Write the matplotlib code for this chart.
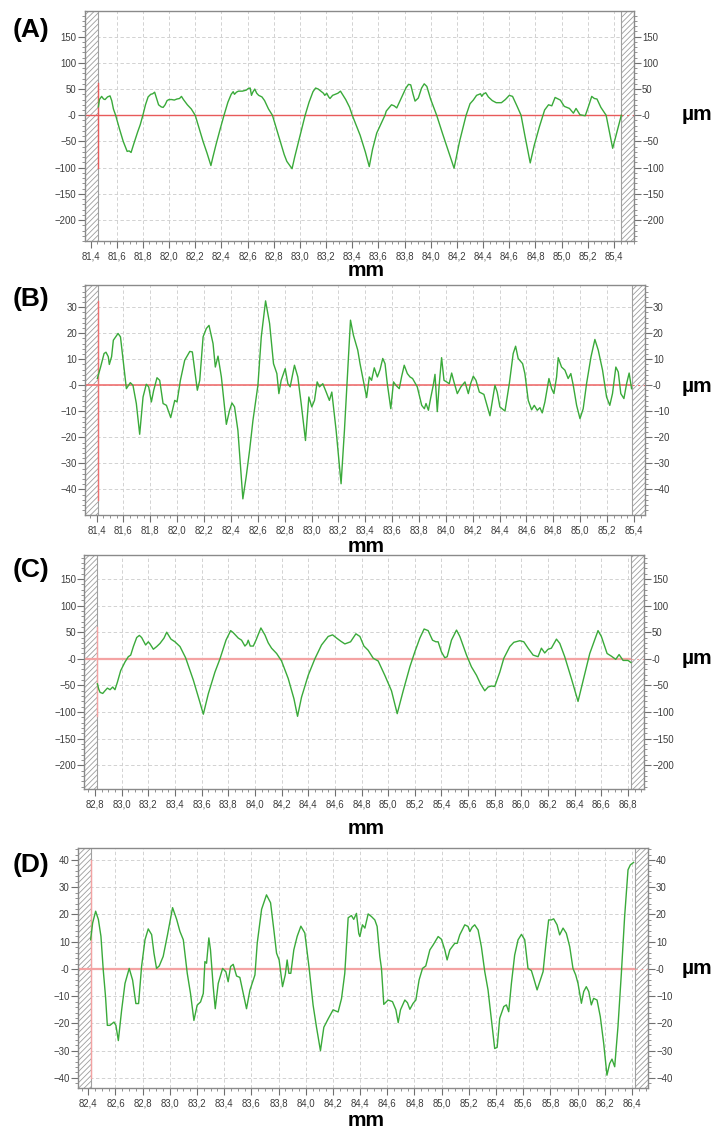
import matplotlib
matplotlib.use('Agg')
import matplotlib.pyplot as plt
from matplotlib.ticker import MultipleLocator, FixedLocator, FuncFormatter
import numpy as np

plt.rcParams['font.family'] = ['Liberation Sans', 'DejaVu Sans']
plt.rcParams['hatch.linewidth'] = 0.6

# ---------------- data (x in mm, y in µm) ----------------
profile_A = [
    (81.460, 16), (81.468, 30), (81.485, 36), (81.500, 31), (81.511, 30), (81.530, 35), (81.549, 37),
    (81.562, 28), (81.575, 12), (81.592, 0), (81.62, -25), (81.65, -50), (81.68, -69), (81.695, -68),
    (81.71, -71), (81.73, -55), (81.76, -32), (81.78, -18), (81.80, 0), (81.82, 20), (81.84, 35),
    (81.86, 40), (81.875, 41), (81.89, 44), (81.905, 32), (81.92, 20), (81.94, 16), (81.955, 15),
    (81.97, 20), (81.985, 28), (82.00, 30), (82.02, 30), (82.04, 29), (82.06, 31), (82.08, 32),
    (82.095, 36), (82.11, 30), (82.14, 20), (82.17, 12), (82.20, 0), (82.23, -25), (82.26, -50),
    (82.29, -72), (82.32, -96), (82.335, -80), (82.36, -55), (82.39, -27), (82.42, 0), (82.45, 25),
    (82.475, 40), (82.49, 45), (82.50, 40), (82.515, 44), (82.53, 46), (82.56, 46), (82.59, 48),
    (82.605, 51), (82.62, 52), (82.63, 38), (82.64, 44), (82.655, 50), (82.67, 42), (82.685, 38),
    (82.71, 35), (82.73, 28), (82.76, 12), (82.79, 0), (82.82, -25), (82.85, -50), (82.88, -75),
    (82.90, -88), (82.94, -102), (82.96, -80), (82.99, -50), (83.015, -25), (83.04, 0), (83.07, 25),
    (83.10, 45), (83.12, 52), (83.14, 50), (83.165, 45), (83.18, 42), (83.19, 38), (83.205, 42),
    (83.22, 35), (83.23, 32), (83.25, 38), (83.27, 40), (83.29, 42), (83.31, 46), (83.325, 40),
    (83.35, 30), (83.38, 15), (83.40, 0), (83.46, -38), (83.50, -70), (83.53, -98), (83.555, -65),
    (83.587, -34), (83.65, 0), (83.66, 8), (83.70, 20), (83.72, 18), (83.74, 14), (83.76, 25),
    (83.78, 36), (83.81, 52), (83.83, 59), (83.847, 58), (83.865, 40), (83.88, 27), (83.905, 33),
    (83.93, 52), (83.95, 60), (83.97, 55), (84.00, 30), (84.045, 0), (84.09, -35), (84.13, -65),
    (84.178, -101), (84.22, -50), (84.27, 0), (84.30, 22), (84.325, 29), (84.35, 38), (84.38, 41),
    (84.39, 36), (84.40, 40), (84.42, 43), (84.44, 35), (84.47, 28), (84.50, 24), (84.54, 24),
    (84.57, 30), (84.60, 38), (84.625, 36), (84.66, 17), (84.69, 0), (84.72, -40), (84.76, -91),
    (84.79, -58), (84.83, -22), (84.87, 10), (84.90, 20), (84.925, 18), (84.95, 34), (84.99, 29),
    (85.02, 17), (85.06, 13), (85.09, 4), (85.11, 13), (85.14, 1), (85.18, -1), (85.20, 13),
    (85.23, 36), (85.25, 32), (85.27, 31), (85.30, 15), (85.34, 0), (85.39, -63), (85.425, -30),
    (85.456, 0),
]

profile_B = [
    (81.406, 2.6), (81.43, 7), (81.456, 12.2), (81.47, 12.7), (81.487, 11), (81.495, 8), (81.512, 11),
    (81.525, 17.3), (81.56, 19.9), (81.578, 18.6), (81.598, 9.6), (81.622, -1.3), (81.651, 1),
    (81.671, 0), (81.696, -7), (81.721, -18.8), (81.746, -4.5), (81.77, 0.4), (81.788, -0.6),
    (81.808, -6.4), (81.825, -2), (81.85, 2.9), (81.87, 1.9), (81.895, -7), (81.92, -7.7),
    (81.952, -12.4), (81.982, -5.8), (81.999, -6.4), (82.024, 1.9), (82.056, 9.6), (82.094, 13),
    (82.113, 12.8), (82.131, 5.8), (82.15, -1.9), (82.168, 1.9), (82.193, 18.6), (82.217, 21.8),
    (82.237, 23), (82.267, 16), (82.284, 7), (82.304, 11.2), (82.329, 3.2), (82.366, -15),
    (82.39, -9.6), (82.408, -6.8), (82.427, -8.3), (82.452, -17.3), (82.489, -43.6), (82.514, -35),
    (82.539, -25), (82.564, -13.5), (82.601, 0), (82.626, 18.6), (82.658, 32.4), (82.688, 23.7),
    (82.717, 8.3), (82.742, 4.5), (82.757, -3.2), (82.774, 1.9), (82.804, 6.4), (82.824, 0.6),
    (82.841, -0.6), (82.873, 7.7), (82.898, 3.2), (82.923, -7), (82.955, -21.2), (82.98, -4.5),
    (83.002, -8.3), (83.022, -5.8), (83.042, 1.3), (83.059, -0.6), (83.084, 0.6), (83.109, -2.6),
    (83.133, -5.8), (83.151, -2.6), (83.183, -17.3), (83.22, -37.8), (83.245, -17.3), (83.27, 5.8),
    (83.29, 25), (83.312, 19.2), (83.344, 13.5), (83.361, 8.3), (83.385, 1.9), (83.41, -4.7),
    (83.43, 3.2), (83.447, 1.9), (83.467, 6.7), (83.49, 3.2), (83.51, 6), (83.53, 10.3),
    (83.547, 8.3), (83.564, 0.6), (83.59, -9), (83.61, 1.3), (83.628, 0), (83.653, -1.3),
    (83.67, 3.2), (83.69, 7.7), (83.713, 4.5), (83.733, 3.2), (83.752, 2.6), (83.787, -0.6),
    (83.82, -7.7), (83.84, -9), (83.852, -7), (83.87, -9.6), (83.886, -5.1), (83.906, 0),
    (83.919, 4.2), (83.936, -10.1), (83.95, 0), (83.968, 10.6), (83.986, 1.9), (84.005, 1.3),
    (84.025, 0.6), (84.043, 4.7), (84.06, 1.3), (84.085, -3.2), (84.112, -0.6), (84.142, 1.3),
    (84.167, -3.2), (84.184, 0.6), (84.204, 3.5), (84.224, 1.9), (84.249, -2.6), (84.283, -3.5),
    (84.328, -11.7), (84.347, -5.8), (84.365, 0), (84.382, -2.6), (84.402, -8.3), (84.44, -9.9),
    (84.472, 0.6), (84.501, 12.2), (84.519, 15), (84.538, 10.3), (84.571, 8.3), (84.588, 4.5),
    (84.613, -5.8), (84.638, -9.4), (84.658, -7.7), (84.68, -9.6), (84.7, -8.6), (84.717, -10.6),
    (84.737, -6.4), (84.767, 2.6), (84.787, -1.3), (84.804, -3.2), (84.824, 3.2), (84.836, 10.6),
    (84.861, 7), (84.886, 5.8), (84.91, 2.6), (84.93, 4.5), (84.948, 0), (84.973, -7.7),
    (84.998, -12.8), (85.022, -9), (85.047, 0.6), (85.08, 10.9), (85.109, 17.6), (85.134, 13.5),
    (85.166, 5.8), (85.196, -4.5), (85.22, -7.7), (85.24, -3.2), (85.265, 7), (85.283, 5.1),
    (85.302, -3.2), (85.325, -5.1), (85.345, 0.6), (85.364, 4.7), (85.382, -1.3),
]

profile_C = [
    (82.818, -47), (82.828, -57), (82.838, -63), (82.858, -65), (82.875, -60), (82.893, -55),
    (82.913, -58), (82.933, -53), (82.95, -58), (82.968, -44), (82.993, -22), (83.025, -6),
    (83.05, 4), (83.068, 7), (83.088, 23), (83.113, 40), (83.133, 44), (83.15, 40), (83.18, 26),
    (83.2, 32), (83.213, 28), (83.238, 18), (83.263, 23), (83.288, 29), (83.318, 39), (83.338, 50),
    (83.37, 37), (83.40, 32), (83.438, 23), (83.48, 2), (83.538, -40), (83.583, -78), (83.613, -104),
    (83.65, -66), (83.70, -25), (83.738, 0), (83.783, 35), (83.818, 53), (83.838, 49), (83.875, 39),
    (83.90, 35), (83.925, 24), (83.94, 28), (83.95, 35), (83.965, 24), (83.988, 24), (84.008, 35),
    (84.045, 58), (84.075, 45), (84.10, 30), (84.125, 20), (84.163, 10), (84.20, -4), (84.25, -37),
    (84.293, -75), (84.32, -108), (84.35, -72), (84.40, -31), (84.45, 0), (84.50, 26), (84.55, 42),
    (84.583, 45), (84.613, 39), (84.645, 33), (84.675, 28), (84.718, 32), (84.758, 47), (84.788, 42),
    (84.818, 24), (84.85, 16), (84.888, 1), (84.925, -4), (84.975, -31), (85.025, -60),
    (85.068, -103), (85.113, -60), (85.163, -15), (85.20, 13), (85.238, 39), (85.27, 56),
    (85.30, 53), (85.333, 35), (85.358, 32), (85.375, 32), (85.40, 13), (85.425, 2), (85.443, 4),
    (85.475, 35), (85.513, 54), (85.538, 42), (85.588, 7), (85.625, -15), (85.663, -31),
    (85.693, -47), (85.725, -60), (85.75, -53), (85.775, -51), (85.80, -52), (85.838, -25),
    (85.868, 1), (85.913, 23), (85.943, 31), (85.988, 34), (86.018, 32), (86.05, 20), (86.088, 7),
    (86.125, 4), (86.15, 20), (86.175, 11), (86.20, 18), (86.225, 20), (86.263, 37), (86.288, 29),
    (86.325, 4), (86.375, -37), (86.425, -80), (86.463, -41), (86.513, 10), (86.575, 53),
    (86.60, 42), (86.643, 10), (86.675, 5), (86.708, -1), (86.733, 8), (86.763, -3), (86.80, -3),
    (86.822, -7),
]

profile_D = [
    (82.417, 10.7), (82.432, 16.9), (82.454, 21.2), (82.474, 18.2), (82.493, 12), (82.510, -0.4),
    (82.527, -10.3), (82.540, -20.7), (82.559, -20.7), (82.589, -19.5), (82.603, -20.7),
    (82.621, -26.3), (82.645, -15.2), (82.670, -5.3), (82.701, 0.2), (82.726, -4.1), (82.750, -12.7),
    (82.770, -12.7), (82.792, 0.9), (82.817, 10.7), (82.841, 14.7), (82.866, 12.6), (82.883, 5.8),
    (82.902, 0.2), (82.922, 1.1), (82.951, 4.6), (82.983, 12.6), (83.020, 22.5), (83.050, 18.2),
    (83.074, 13.8), (83.099, 10.7), (83.128, -1.6), (83.152, -9), (83.177, -18.9), (83.201, -13.3),
    (83.226, -12.1), (83.246, -9), (83.258, 2.7), (83.270, 2.1), (83.287, 11.4), (83.299, 7),
    (83.319, -6.5), (83.334, -14.6), (83.356, -5.3), (83.388, 0.2), (83.412, -1), (83.429, -4.7),
    (83.447, 0.9), (83.466, 1.7), (83.491, -2.6), (83.515, -3.1), (83.540, -9), (83.564, -14.6),
    (83.589, -7.8), (83.626, -2.2), (83.643, 9.5), (83.675, 21.9), (83.711, 27.2), (83.741, 24.3),
    (83.765, 14.4), (83.785, 5.8), (83.804, 3.3), (83.829, -6.5), (83.849, -2.2), (83.863, 3.3),
    (83.876, -1.6), (83.890, -1.6), (83.912, 7), (83.937, 12), (83.964, 15.7), (83.993, 13.2),
    (84.025, 0.2), (84.054, -13.3), (84.079, -21.4), (84.108, -30), (84.133, -21.4), (84.165, -18.3),
    (84.201, -15), (84.238, -15.8), (84.263, -10.9), (84.287, -1.6), (84.312, 18.8), (84.336, 19.6),
    (84.353, 18.2), (84.373, 20.4), (84.390, 13.0), (84.398, 11.9), (84.417, 16.2), (84.435, 15),
    (84.459, 20.2), (84.484, 19.2), (84.508, 18), (84.525, 15.6), (84.545, 4.5), (84.557, 0.2),
    (84.574, -13), (84.606, -11.4), (84.638, -12), (84.663, -15), (84.68, -19.7), (84.697, -15),
    (84.729, -11.4), (84.748, -12.4), (84.766, -14.8), (84.79, -12.6), (84.81, -11.4), (84.834, -4),
    (84.859, 0.2), (84.883, 1.1), (84.913, 7), (84.937, 8.8), (84.974, 11.9), (84.998, 10.9),
    (85.023, 7), (85.04, 3.3), (85.06, 7), (85.096, 9.4), (85.114, 9.4), (85.133, 12.5),
    (85.17, 16.2), (85.194, 15.6), (85.207, 13.7), (85.224, 15.3), (85.243, 16.2), (85.268, 14.3),
    (85.292, 8.2), (85.317, -1), (85.341, -7.7), (85.366, -18.7), (85.39, -29.2), (85.408, -28.8),
    (85.427, -18.1), (85.457, -13.8), (85.476, -13.2), (85.493, -15.7), (85.513, -5.3),
    (85.537, 5.1), (85.562, 10.7), (85.587, 12.7), (85.611, 10.7), (85.635, 0.2), (85.66, -0.6),
    (85.677, -3.4), (85.702, -7.7), (85.726, -4), (85.746, -1), (85.77, 10.7), (85.787, 18),
    (85.807, 18), (85.824, 18.4), (85.849, 16.2), (85.868, 12.5), (85.893, 15), (85.917, 13.1),
    (85.942, 8.2), (85.966, 0.2), (85.986, -2.2), (86.003, -5.3), (86.028, -12.6), (86.045, -8.3),
    (86.064, -6.5), (86.082, -8.3), (86.101, -13.2), (86.118, -10.8), (86.143, -11.4),
    (86.167, -17.5), (86.192, -27.3), (86.216, -39), (86.236, -34.7), (86.253, -33.1),
    (86.273, -35.9), (86.297, -21.2), (86.322, -1.6), (86.346, 19.2), (86.371, 36.4),
    (86.388, 38.2), (86.412, 39.1),
]

panel_letters = ['(A)', '(B)', '(C)', '(D)']
x_ranges = [(81.354, 85.553), (81.314, 85.482), (82.7175, 86.92), (82.322, 86.518)]
hatch_edges = [(81.46, 85.456), (81.411, 85.383), (82.817, 86.822), (82.417, 86.42)]
y_ranges = [(-240, 199), (-49.8, 38.5), (-244.5, 195), (-43.7, 44.4)]
y_major_ticks = [list(range(-200, 151, 50)), list(range(-40, 31, 10)),
                 list(range(-200, 151, 50)), list(range(-40, 41, 10))]
y_minor_steps = [10, 2, 10, 2]
x_tick_starts = [81.4, 81.4, 82.8, 82.4]
red_marker_span = [(-101, 62), (-44, 32.4), (-108, 59.5), (-40, 40)]
profiles = [profile_A, profile_B, profile_C, profile_D]

# ---------------- layout (pixels) ----------------
W, H = 714, 1137
fig = plt.figure(figsize=(W / 100, H / 100), dpi=100)
fig.patch.set_facecolor('white')

axes_px = [(84.5, 634, 11, 241), (85, 645, 285, 515), (84, 644, 555, 789), (77.7, 648, 848, 1088)]
letter_y = [30, 299, 570, 865]
mm_y = [271, 546, 828, 1121]
um_y = [115, 387, 658, 968]
red_cols = ['#e85a5a', '#ef6f6f', '#f4a3a3', '#f4a3a3']
red_lws = [1.0, 1.2, 1.6, 1.6]


def xfmt(v, pos):
    return f"{v:.1f}".replace('.', ',')


def yfmt(v, pos):
    if abs(v) < 1e-9:
        return '-0'
    if v < 0:
        return '\u2212' + f"{-v:.0f}"
    return f"{v:.0f}"


green = '#3aaa3a'
spine_col = '#8a8a8a'

for i in range(4):
    l, r, t, b = axes_px[i]
    ax = fig.add_axes([l / W, 1 - b / H, (r - l) / W, (b - t) / H])
    x0, x1 = x_ranges[i]
    y0, y1 = y_ranges[i]
    hl, hr = hatch_edges[i]
    ax.set_xlim(x0, x1)
    ax.set_ylim(y0, y1)
    ax.set_axisbelow(True)

    # ticks
    xt = [round(x_tick_starts[i] + 0.2 * k, 1) for k in range(21)]
    ax.xaxis.set_major_locator(FixedLocator(xt))
    ax.xaxis.set_minor_locator(MultipleLocator(0.05))
    ax.yaxis.set_major_locator(FixedLocator(y_major_ticks[i]))
    ax.yaxis.set_minor_locator(MultipleLocator(y_minor_steps[i]))
    ax.xaxis.set_major_formatter(FuncFormatter(xfmt))
    ax.yaxis.set_major_formatter(FuncFormatter(yfmt))
    ax.tick_params(axis='both', which='major', direction='out', length=5, width=0.8,
                   color='#707070', labelsize=6.9, labelcolor='#3c3c3c')
    ax.tick_params(axis='both', which='minor', direction='out', length=2.5, width=0.6,
                   color='#808080')
    ax.tick_params(axis='y', which='both', left=True, right=True, labelleft=True, labelright=True,
                   pad=0.8)
    ax.tick_params(axis='x', which='both', top=False, bottom=True, pad=2.4)

    for s in ax.spines.values():
        s.set_color(spine_col)
        s.set_linewidth(1.0)

    ax.grid(True, which='major', color='#d2d2d2', linestyle=(0, (3.5, 2.5)), linewidth=0.7)

    # hatched end zones
    for a, c in [(x0, hl), (hr, x1)]:
        ax.axvspan(a, c, facecolor='white', edgecolor='#9c9c9c', hatch='//////', lw=0, zorder=1.5)
    ax.axvline(hl, color='#a0a0a0', lw=0.8, zorder=1.6)
    ax.axvline(hr, color='#a0a0a0', lw=0.8, zorder=1.6)

    # red reference lines
    ax.plot([x0, hr], [0, 0], color=red_cols[i], lw=red_lws[i], zorder=2, solid_capstyle='butt')
    ax.plot([hr, x1], [0, 0], color=red_cols[i], lw=0.8, ls=(0, (2, 3)), zorder=2)
    lo, hi = red_marker_span[i]
    ax.plot([hl, hl], [lo, hi], color=red_cols[i], lw=1.0, zorder=2)

    # profile
    px = [p[0] for p in profiles[i]]
    py = [p[1] for p in profiles[i]]
    ax.plot(px, py, color=green, lw=1.0, zorder=3)

    fig.text(13 / W, 1 - letter_y[i] / H, panel_letters[i], fontsize=19, fontweight='bold',
             ha='left', va='center', color='black')
    fig.text(366 / W, 1 - mm_y[i] / H, 'mm', fontsize=15, fontweight='bold',
             ha='center', va='center', color='black')
    fig.text(697 / W, 1 - um_y[i] / H, 'µm', fontsize=15, fontweight='bold',
             ha='center', va='center', color='black')

fig.savefig('out.png', dpi=100, facecolor='white')
